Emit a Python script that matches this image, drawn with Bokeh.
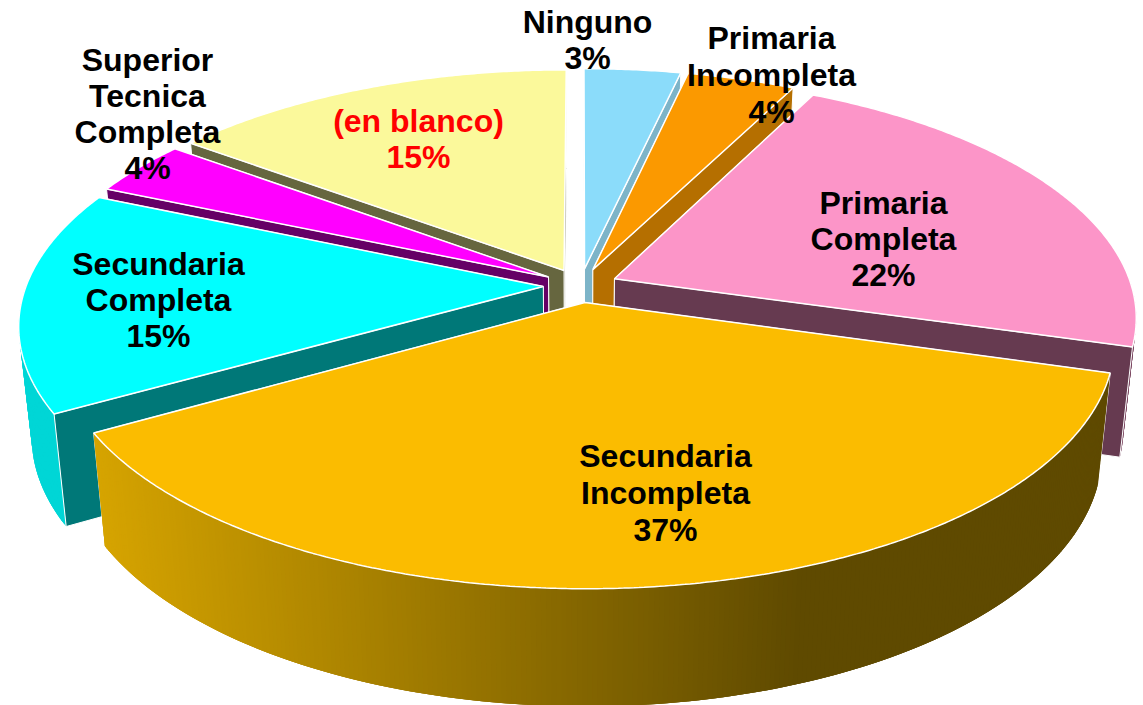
import numpy as np
from bokeh.plotting import figure
from bokeh.embed import file_html
from bokeh.resources import INLINE
from bokeh.core.properties import value

# ---- data ----
categories = ["Ninguno", "Primaria Incompleta", "Primaria Completa", "Secundaria Incompleta",
              "Secundaria Completa", "Superior Tecnica Completa", "(en blanco)"]
shares = [3.49, 3.91, 22.1, 37.2, 14.85, 3.7, 14.75]
percent_labels = ["3%", "4%", "22%", "37%", "15%", "4%", "15%"]
label_lines = [["Ninguno"], ["Primaria", "Incompleta"], ["Primaria", "Completa"], ["Secundaria", "Incompleta"],
               ["Secundaria", "Completa"], ["Superior", "Tecnica", "Completa"], ["(en blanco)"]]

# ---- styling ----
top_colors = ["#8BDCFA", "#FB9900", "#FC95C8", "#FBBC00", "#00FFFF", "#FF00FF", "#FBF99B"]
wall_colors = ["#7DB4C8", "#B56F00", "#663A50", "#664E00", "#007878", "#660066", "#66663F"]
arc_left = ["#7DB4C8", "#B56F00", "#7A4660", "#D6A400", "#00D6D6", "#660066", "#66663F"]
arc_right = ["#7DB4C8", "#B56F00", "#7A4660", "#5F4A00", "#00D6D6", "#660066", "#66663F"]
text_colors = ["black"] * 6 + ["#FF0000"]
label_x = [587, 771, 883, 665, 158, 147, 418]
label_y0 = [21, 37, 202, 455, 263, 59, 120]
label_step = [36, 37, 36, 37, 36, 36, 36]
paint_order = [6, 0, 1, 5, 2, 4, 3]

# projection of the tilted disc
CX, CY, AX, BY, K = 580.0, 285.0, 517.0, 236.0, 0.155
EXPLODE = 0.072
H0, H1, SHRINK = 108.0, 9.0, 0.977
GRAD_X0, GRAD_X1 = 92.0, 800.0


def project(X, Y):
    w = 1 - K * Y
    return CX + AX * X / w, CY + BY * Y / w


def base(X, Y):
    sx, sy = project(X, Y)
    return CX + (sx - CX) * SHRINK, sy + H0 + H1 * Y


def lerp_color(c0, c1, f):
    a = [int(c0[i:i + 2], 16) for i in (1, 3, 5)]
    b = [int(c1[i:i + 2], 16) for i in (1, 3, 5)]
    return "#%02X%02X%02X" % tuple(int(round(x + (y - x) * f)) for x, y in zip(a, b))


p = figure(width=1143, height=705, x_range=(0, 1143), y_range=(705, 0),
           toolbar_location=None, output_backend="svg", min_border=0)
p.axis.visible = False
p.grid.visible = False
p.outline_line_color = None

edges = np.cumsum([0] + shares) / sum(shares) * 2 * np.pi


def wall(px, py, t, color):
    X, Y = px + np.sin(t), py - np.cos(t)
    ax, ay = project(px, py)
    bx, by = base(px, py)
    rx, ry = project(X, Y)
    qx, qy = base(X, Y)
    p.patch([ax, rx, qx, bx], [ay, ry, qy, by], fill_color=color, line_color="white", line_width=1)


for i in paint_order:
    t0, t1 = edges[i], edges[i + 1]
    mid = (t0 + t1) / 2
    px, py = EXPLODE * np.sin(mid), -EXPLODE * np.cos(mid)
    n = max(12, int((t1 - t0) * 120))
    ts = np.linspace(t0, t1, n + 1)
    RX, RY = px + np.sin(ts), py - np.cos(ts)

    start_visible = np.sin(t0) < 0
    end_visible = np.sin(t1) > 0
    if not start_visible:
        wall(px, py, t0, wall_colors[i])
    if not end_visible:
        wall(px, py, t1, wall_colors[i])

    # outer rim, in overlapping strips so that it carries the horizontal gradient without seams
    xs_, ys_, cs_ = [], [], []
    for j in range(n):
        tm = (ts[j] + ts[j + 1]) / 2
        if np.cos(tm) > 0:
            continue
        e = min(j + 3, n)
        a = project(RX[j], RY[j])
        b = project(RX[j + 1], RY[j + 1])
        b2 = project(RX[e], RY[e])
        c2 = base(RX[e], RY[e])
        d = base(RX[j], RY[j])
        xs_.append([a[0], b2[0], c2[0], d[0]])
        ys_.append([a[1], b2[1], c2[1], d[1]])
        f = float(np.clip(((a[0] + b[0]) / 2 - GRAD_X0) / (GRAD_X1 - GRAD_X0), 0, 1))
        cs_.append(lerp_color(arc_left[i], arc_right[i], f))
    if xs_:
        p.patches(xs_, ys_, fill_color=cs_, line_color=None)

    if start_visible:
        wall(px, py, t0, wall_colors[i])
    if end_visible:
        wall(px, py, t1, wall_colors[i])

    ax, ay = project(px, py)
    sx, sy = project(RX, RY)
    p.patch(np.r_[ax, sx], np.r_[ay, sy], fill_color=top_colors[i], line_color="white", line_width=1.5)

for i in range(len(categories)):
    lines = label_lines[i] + [percent_labels[i]]
    ys = [label_y0[i] + k * label_step[i] for k in range(len(lines))]
    p.text([label_x[i]] * len(lines), ys, text=lines, text_color=text_colors[i],
           text_font=value("Liberation Sans"), text_font_style="bold", text_font_size="32px",
           text_align="center", text_baseline="middle")

open("out.html", "w").write(file_html(p, INLINE))
